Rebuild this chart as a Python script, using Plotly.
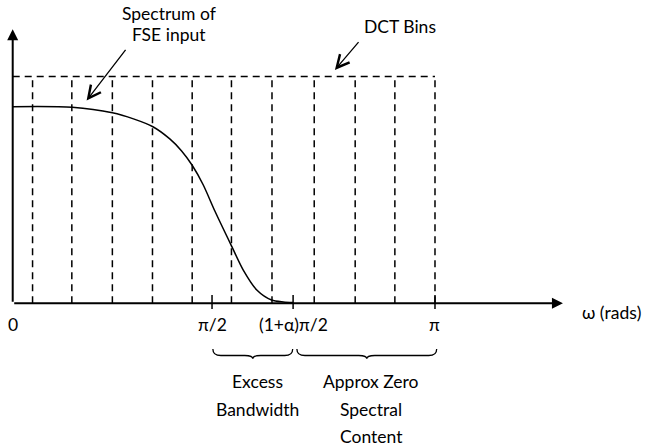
import plotly.graph_objects as go

# ---- data (frequency in units of pi, magnitude normalised to passband level) ----
freq = [0.0, 0.141, 0.236, 0.286, 0.332, 0.372, 0.400, 0.425, 0.451,
        0.479, 0.519, 0.546, 0.578, 0.613, 0.641, 0.664]
mag = [1.0, 0.997, 0.969, 0.938, 0.898, 0.836, 0.775, 0.702, 0.603,
       0.468, 0.288, 0.169, 0.068, 0.017, 0.007, 0.004]

bin_edges = [0.047, 0.140, 0.236, 0.331, 0.425, 0.518, 0.614, 0.714, 0.811, 0.905, 1.0]
bin_top = 1.153

tick_pos = [0.0, 0.472, 0.664, 1.0]
tick_text = ["0", "π/2", "(1+α)π/2", "π"]
tick_marks = [0.472, 0.664, 1.0]

brace_spans = [(0.474, 0.663), (0.673, 1.004)]
brace_labels = [["Excess", "Bandwidth"], ["Approx Zero", "Spectral", "Content"]]

x_axis_end = 1.303
y_axis_end = 1.394

FONT = "Lato"
FS = 17.5
INK = "#000000"

fig = go.Figure()

# DCT bins (dashed)
bx, by = [], []
for e in bin_edges:
    bx += [e, e, None]
    by += [0, bin_top, None]
bx += [0, bin_edges[-1]]
by += [bin_top, bin_top]
fig.add_trace(go.Scatter(x=bx, y=by, mode="lines",
                         line=dict(color=INK, width=1.5, dash="7px,5px"),
                         hoverinfo="skip"))

# spectrum curve
fig.add_trace(go.Scatter(x=freq, y=mag, mode="lines",
                         line=dict(color=INK, width=1.5, shape="spline", smoothing=0.8),
                         hoverinfo="skip"))

shapes = []
# tick marks
for t in tick_marks:
    shapes.append(dict(type="line", xref="x", yref="y", x0=t, x1=t, y0=0.042, y1=-0.029,
                       line=dict(color=INK, width=1.5)))

# braces
px_x = 1 / 422.3
yt, ym, yb = -0.232, -0.2654, -0.2823
r = 8 * px_x
for (a, b) in brace_spans:
    c = (a + b) / 2
    path = (f"M{a},{yt} Q{a},{ym} {a + r},{ym} L{c - r},{ym} Q{c},{ym} {c},{yb} "
            f"Q{c},{ym} {c + r},{ym} L{b - r},{ym} Q{b},{ym} {b},{yt}")
    shapes.append(dict(type="path", xref="x", yref="y", path=path,
                       line=dict(color=INK, width=1.3)))

annotations = []
# axes with arrows
annotations.append(dict(x=x_axis_end, y=0, ax=0, ay=0, xref="x", yref="y", axref="x", ayref="y",
                        text="", showarrow=True, arrowhead=2, arrowsize=1.1, arrowwidth=2,
                        arrowcolor=INK, standoff=0))
annotations.append(dict(x=0, y=y_axis_end, ax=0, ay=0, xref="x", yref="y", axref="x", ayref="y",
                        text="", showarrow=True, arrowhead=2, arrowsize=1.1, arrowwidth=2,
                        arrowcolor=INK, standoff=0))

# tick labels
for p, t in zip(tick_pos, tick_text):
    annotations.append(dict(x=p, y=-0.110, xref="x", yref="y", text=t, showarrow=False,
                            font=dict(family=FONT, size=FS, color=INK)))
annotations.append(dict(x=1.419, y=-0.049, xref="x", yref="y", text="ω (rads)", showarrow=False,
                        font=dict(family=FONT, size=FS, color=INK)))

# brace labels
line_v = [-0.399, -0.538, -0.678]
for (a, b), labels in zip(brace_spans, brace_labels):
    c = (a + b) / 2
    for k, lab in enumerate(labels):
        annotations.append(dict(x=c + 0.010, y=line_v[k], xref="x", yref="y", text=lab,
                                showarrow=False, font=dict(family=FONT, size=FS, color=INK)))

# callouts
annotations.append(dict(x=0.370, y=1.475, xref="x", yref="y", text="Spectrum of", showarrow=False,
                        font=dict(family=FONT, size=FS, color=INK)))
annotations.append(dict(x=0.370, y=1.365, xref="x", yref="y", text="FSE input", showarrow=False,
                        font=dict(family=FONT, size=FS, color=INK)))
annotations.append(dict(x=0.175, y=1.031, ax=0.270, ay=1.297, xref="x", yref="y",
                        axref="x", ayref="y", text="", showarrow=True, arrowhead=5,
                        arrowsize=1.9, arrowwidth=1.3, arrowcolor=INK, standoff=0))
annotations.append(dict(x=0.917, y=1.407, xref="x", yref="y", text="DCT Bins", showarrow=False,
                        font=dict(family=FONT, size=FS, color=INK)))
annotations.append(dict(x=0.763, y=1.187, ax=0.822, ay=1.336, xref="x", yref="y",
                        axref="x", ayref="y", text="", showarrow=True, arrowhead=5,
                        arrowsize=1.9, arrowwidth=1.3, arrowcolor=INK, standoff=0))

fig.update_layout(
    width=646, height=448,
    margin=dict(l=0, r=0, t=0, b=0),
    paper_bgcolor="white", plot_bgcolor="white",
    showlegend=False,
    xaxis=dict(visible=False, range=[-0.0301, 1.4997], fixedrange=True),
    yaxis=dict(visible=False, range=[-0.736, 1.5427], fixedrange=True),
    shapes=shapes, annotations=annotations,
)

fig.write_html("out.html", config={"displayModeBar": False})
